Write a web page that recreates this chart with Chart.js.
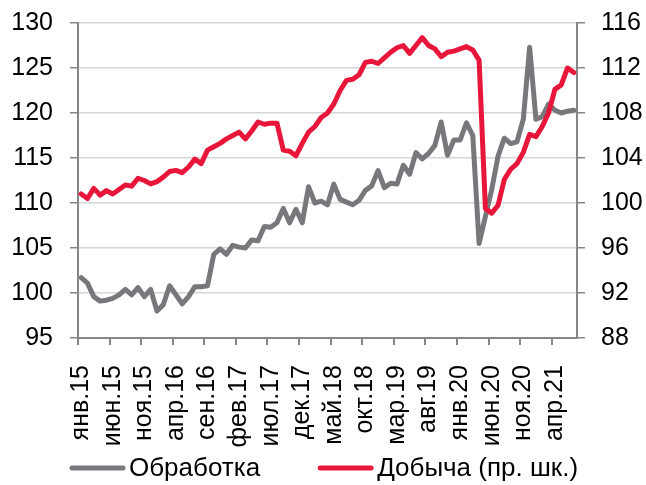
<!DOCTYPE html>
<html lang="ru">
<head>
<meta charset="utf-8">
<title>Обработка и добыча</title>
<script src="https://cdn.jsdelivr.net/npm/chart.js@4.4.1/dist/chart.umd.min.js"></script>
<style>
    html, body { margin: 0; padding: 0; background: #fff; }
    #chartBox { width: 646px; height: 485px; }
</style>
</head>
<body>
<div id="chartBox"><canvas id="prodChart" width="646" height="485"></canvas></div>
<script>
// months, Jan 2015 - Jul 2021
const months = [
    'янв.15', 'фев.15', 'мар.15', 'апр.15', 'май.15', 'июн.15', 'июл.15', 'авг.15', 'сен.15', 'окт.15', 'ноя.15', 'дек.15',
    'янв.16', 'фев.16', 'мар.16', 'апр.16', 'май.16', 'июн.16', 'июл.16', 'авг.16', 'сен.16', 'окт.16', 'ноя.16', 'дек.16',
    'янв.17', 'фев.17', 'мар.17', 'апр.17', 'май.17', 'июн.17', 'июл.17', 'авг.17', 'сен.17', 'окт.17', 'ноя.17', 'дек.17',
    'янв.18', 'фев.18', 'мар.18', 'апр.18', 'май.18', 'июн.18', 'июл.18', 'авг.18', 'сен.18', 'окт.18', 'ноя.18', 'дек.18',
    'янв.19', 'фев.19', 'мар.19', 'апр.19', 'май.19', 'июн.19', 'июл.19', 'авг.19', 'сен.19', 'окт.19', 'ноя.19', 'дек.19',
    'янв.20', 'фев.20', 'мар.20', 'апр.20', 'май.20', 'июн.20', 'июл.20', 'авг.20', 'сен.20', 'окт.20', 'ноя.20', 'дек.20',
    'янв.21', 'фев.21', 'мар.21', 'апр.21', 'май.21', 'июн.21', 'июл.21'
];

// left axis
const obrabotka = [
    101.7, 101.1, 99.6, 99.1, 99.2, 99.4, 99.8, 100.4, 99.8, 100.6, 99.6, 100.4,
    98.0, 98.7, 100.8, 99.8, 98.8, 99.6, 100.7, 100.7, 100.8, 104.3, 104.9, 104.3,
    105.3, 105.1, 105.0, 105.9, 105.8, 107.4, 107.3, 107.8, 109.4, 107.8, 109.3, 107.8,
    111.8, 110.0, 110.2, 109.8, 112.1, 110.4, 110.1, 109.8, 110.3, 111.4, 111.9, 113.6,
    111.7, 112.2, 112.1, 114.2, 113.2, 115.6, 114.9, 115.5, 116.4, 119.0, 115.3, 117.0,
    117.0, 118.9, 117.5, 105.5, 108.5, 111.5, 115.2, 117.2, 116.6, 116.8, 119.3, 127.3,
    119.3, 119.6, 121.0, 120.3, 120.0, 120.2, 120.3
];

// right axis
const dobycha = [
    100.8, 100.4, 101.3, 100.7, 101.1, 100.8, 101.2, 101.6, 101.5, 102.2, 102.0, 101.7,
    101.9, 102.3, 102.8, 102.9, 102.7, 103.2, 103.9, 103.5, 104.7, 105.0, 105.3, 105.7,
    106.0, 106.3, 105.7, 106.4, 107.2, 107.0, 107.1, 107.1, 104.7, 104.6, 104.2, 105.3,
    106.3, 106.8, 107.6, 108.0, 108.8, 110.0, 110.9, 111.0, 111.4, 112.5, 112.6, 112.4,
    112.9, 113.4, 113.8, 114.0, 113.3, 114.0, 114.7, 114.0, 113.7, 113.0, 113.4, 113.5,
    113.7, 113.9, 113.6, 112.7, 99.5, 99.1, 99.8, 102.1, 103.0, 103.5, 104.5, 106.1,
    105.9, 106.8, 108.0, 110.1, 110.5, 112.0, 111.6
];

const seriesNames = ['Обработка', 'Добыча (пр. шк.)'];

const FONT = '"Liberation Sans", Arial, sans-serif';
const AXIS_GREY = '#868686';

// legend under the axis labels: short line + text
const bottomLegend = {
    id: 'bottomLegend',
    afterDraw(chart) {
        const ctx = chart.ctx;
        const y = 468;
        let x = 70;
        ctx.save();
        ctx.font = '26px ' + FONT;
        ctx.textBaseline = 'middle';
        chart.data.datasets.forEach(ds => {
            ctx.strokeStyle = ds.borderColor;
            ctx.lineWidth = 5;
            ctx.lineCap = 'round';
            ctx.beginPath();
            ctx.moveTo(x + 2, y);
            ctx.lineTo(x + 53, y);
            ctx.stroke();
            ctx.fillStyle = '#000';
            ctx.fillText(ds.label, x + 59, y + 1);
            x += 59 + ctx.measureText(ds.label).width + 58;
        });
        ctx.restore();
    }
};

// y axes: no extra room above the top label
function fixYScale(width) {
    return scale => {
        scale.width = width;
        scale.paddingTop = 0;
        scale.paddingBottom = 0;
    };
}

const ctx = document.getElementById('prodChart').getContext('2d');
const myChart = new Chart(ctx, {
    type: 'line',
    data: {
        labels: months,
        datasets: [
            {
                label: seriesNames[0],
                data: obrabotka,
                yAxisID: 'y',
                borderColor: '#78787c',
                borderWidth: 5,
                pointRadius: 0,
                tension: 0,
                borderJoinStyle: 'round',
                borderCapStyle: 'round',
                order: 1
            },
            {
                label: seriesNames[1],
                data: dobycha,
                yAxisID: 'y2',
                borderColor: '#e9163b',
                borderWidth: 5,
                pointRadius: 0,
                tension: 0,
                borderJoinStyle: 'round',
                borderCapStyle: 'round',
                order: 0
            }
        ]
    },
    options: {
        responsive: false,
        animation: false,
        layout: { padding: { top: 23, bottom: 17, left: 0, right: 0 } },
        plugins: {
            legend: { display: false },
            tooltip: { enabled: false }
        },
        scales: {
            x: {
                type: 'category',
                offset: true,
                afterFit: scale => { scale.height = 130; },
                border: { color: AXIS_GREY, width: 2 },
                grid: {
                    offset: true,
                    drawOnChartArea: false,
                    drawTicks: true,
                    tickLength: 7,
                    lineWidth: 2,
                    tickColor: c => (c.index !== undefined && c.index % 5 === 0) ? AXIS_GREY : 'rgba(0,0,0,0)'
                },
                ticks: {
                    autoSkip: false,
                    maxRotation: 90,
                    minRotation: 90,
                    padding: 20,
                    color: '#000',
                    font: { family: FONT, size: 25 },
                    callback: (val, i) => (i % 5 === 0 ? months[i] : '')
                }
            },
            y: {
                position: 'left',
                min: 95,
                max: 130,
                afterFit: fixYScale(78),
                border: { color: AXIS_GREY, width: 2 },
                grid: {
                    color: '#d6d6d6',
                    lineWidth: 1.5,
                    tickColor: AXIS_GREY,
                    tickLength: 8
                },
                ticks: {
                    stepSize: 5,
                    padding: 17,
                    color: '#000',
                    font: { family: FONT, size: 25 }
                }
            },
            y2: {
                position: 'right',
                min: 88,
                max: 116,
                afterFit: fixYScale(69),
                border: { color: AXIS_GREY, width: 2 },
                grid: {
                    drawOnChartArea: false,
                    tickColor: AXIS_GREY,
                    tickLength: 8,
                    lineWidth: 1.5
                },
                ticks: {
                    stepSize: 4,
                    padding: 16,
                    color: '#000',
                    font: { family: FONT, size: 25 }
                }
            }
        }
    },
    plugins: [bottomLegend]
});
</script>
</body>
</html>
